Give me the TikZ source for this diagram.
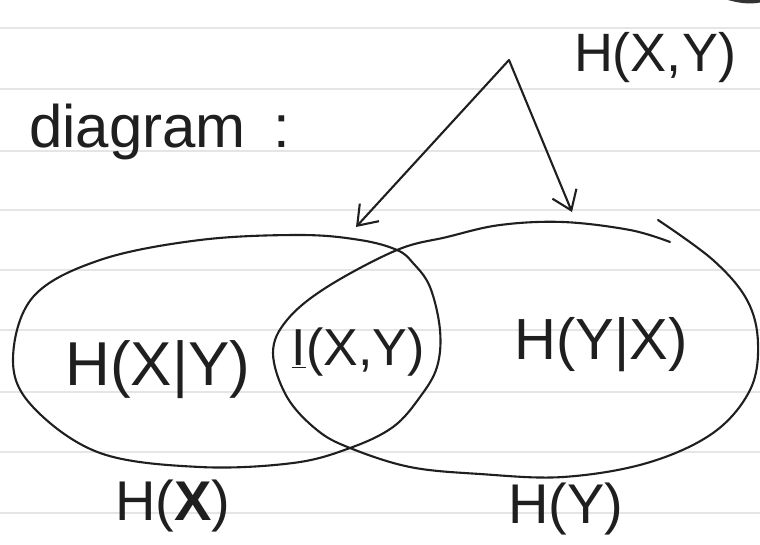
\documentclass[tikz,border=0pt]{standalone}
\usepackage{fontspec}
\setmainfont{Liberation Sans}
\usetikzlibrary{arrows.meta}
\begin{document}
\begin{tikzpicture}[x=1pt,y=-1pt,
  ink/.style={draw=black!88, line width=2.1pt, line cap=round, line join=round},
  paper/.style={draw=black!10, line width=2.5pt},
  lbl/.style={inner sep=0pt, text=black!88},
  arr/.style={ink, -{Straight Barb[length=18pt,width=26pt,line width=2.1pt]}},
]
\useasboundingbox (0,0) rectangle (760,544);
\fill[white] (0,0) rectangle (760,544);
% ruled paper
\foreach \yy in {28,89,151,210,270,330,392,452,513}
  \draw[paper] (0,\yy) -- (760,\yy);
% corner smudge
\fill[black!80] (728,0) .. controls (742,4) and (752,4) .. (760,2.5) -- (760,0) -- cycle;

% left set H(X)
\draw[ink] plot[smooth cycle, tension=0.6] coordinates {
  (13,360) (33,297) (100,260) (200,240) (300,235) (360,240) (397,250)
  (413,263) (430,287) (440,330) (437,367) (420,397) (393,427) (350,448)
  (293,463) (200,467) (100,453) (33,407)};
% right set H(Y), drawn as one open stroke that overlaps at the top right
\draw[ink] plot[smooth, tension=0.6] coordinates {
  (670,242) (630,230) (563,222) (500,225) (447,237) (397,250) (327,287)
  (287,320) (273,353) (287,397) (317,430) (350,448) (410,467) (480,474)
  (563,477) (647,463) (713,433) (750,390) (758,343) (747,300) (713,260)
  (658,220)};

% labels
\node[lbl, anchor=base west, font=\fontsize{60}{60}\selectfont] (title) at (29,147) {diagram\hspace{28pt}:};
\node[lbl, font=\fontsize{54}{54}\selectfont] (hxy) at (655,58) {H(X,Y)};
\node[lbl, font=\fontsize{62}{62}\selectfont] (hxgy) at (158,370) {H(X|Y)};
\node[lbl, font=\fontsize{52}{52}\selectfont] (ixy) at (358,352) {\underline{I}(X,Y)};
\node[lbl, font=\fontsize{58}{58}\selectfont] (hygx) at (601,345) {H(Y|X)};
\node[lbl, font=\fontsize{56}{56}\selectfont] (hx) at (173,506) {H(\textbf{X})};
\node[lbl, font=\fontsize{56}{56}\selectfont] (hy) at (566,509) {H(Y)};

% arrows from the joint entropy to both sets
\coordinate (apex) at (509,60);
\coordinate (tipL) at (356,227);
\coordinate (tipR) at (572,212);
\draw[arr] (apex) -- (tipL);
\draw[arr] (apex) -- (tipR);
\end{tikzpicture}
\end{document}
